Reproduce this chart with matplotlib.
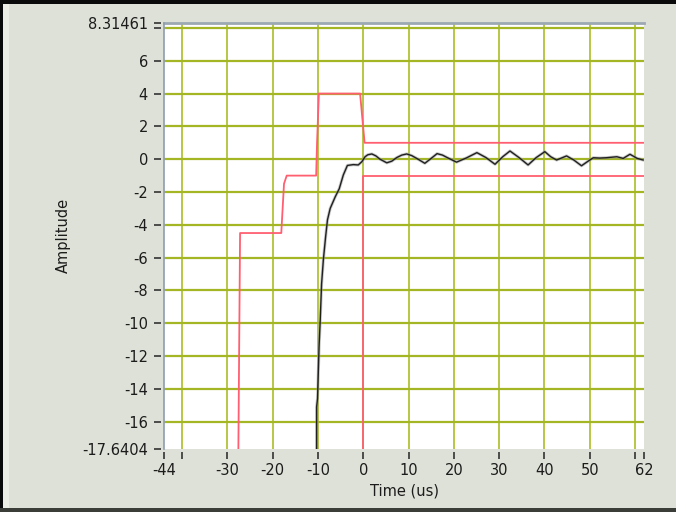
import numpy as np
import matplotlib
matplotlib.use('Agg')
import matplotlib.pyplot as plt

# axis setup
x_min, x_max = -44, 62
y_min, y_max = -17.6404, 8.31461
x_ticks = [-44, -40, -30, -20, -10, 0, 10, 20, 30, 40, 50, 60, 62]
x_labels = ['-44', '', '-30', '-20', '-10', '0', '10', '20', '30', '40', '50', '', '62']
y_ticks = [-17.6404, -16, -14, -12, -10, -8, -6, -4, -2, 0, 2, 4, 6, 8, 8.31461]
y_labels = ['-17.6404', '-16', '-14', '-12', '-10', '-8', '-6', '-4', '-2', '0',
            '2', '4', '6', '', '8.31461']
x_grid = [-40, -30, -20, -10, 0, 10, 20, 30, 40, 50, 60]
y_grid = [-16, -14, -12, -10, -8, -6, -4, -2, 0, 2, 4, 6, 8]

# upper mask limit (red)
upper_t = [-27.6, -27.2, -18.1, -17.5, -16.9, -10.4, -10.2, -9.8, -0.7, 0.3, 62]
upper_a = [-18.5, -4.5, -4.5, -1.5, -1.0, -1.0, 1.0, 4.0, 4.0, 1.0, 1.0]

# lower mask limit (red)
lower_t = [0.0, 0.0, 62]
lower_a = [-18.5, -1.0, -1.0]

# measured signal (black)
sig_t = [-10.3, -10.3, -10.1, -9.75, -9.5, -9.2, -8.8, -8.3, -7.9, -7.3,
         -6.2, -5.3, -4.4, -3.5, -2.2, -1.1, -0.3, 0.4, 1.0, 1.9,
         2.8, 3.7, 5.2, 6.3, 7.4, 8.5, 9.6, 10.7, 11.8, 13.6,
         15.0, 16.3, 17.5, 18.4, 20.6, 22.8, 25.1, 27.1, 29.1, 30.8,
         32.4, 34.4, 36.4, 38.2, 40.1, 41.4, 42.7, 44.9, 46.5, 48.2,
         49.5, 50.8, 52.2, 53.7, 56.0, 57.4, 58.9, 60.5, 61.8]
sig_a = [-18.5, -15.1, -14.6, -11.4, -9.8, -7.6, -6.1, -4.7, -3.7, -3.0,
         -2.3, -1.8, -0.96, -0.38, -0.33, -0.35, -0.15, 0.15, 0.27, 0.32,
         0.2, 0.0, -0.22, -0.12, 0.1, 0.25, 0.32, 0.22, 0.05, -0.25,
         0.05, 0.34, 0.25, 0.12, -0.18, 0.08, 0.4, 0.1, -0.31, 0.15,
         0.5, 0.1, -0.35, 0.1, 0.46, 0.15, -0.05, 0.2, -0.05, -0.4,
         -0.15, 0.09, 0.07, 0.09, 0.15, 0.05, 0.3, 0.05, -0.05]

W, H = 676, 512
fig = plt.figure(figsize=(W / 100, H / 100), dpi=100)
fig.patch.set_facecolor('#dee1d7')

# panel frame (LabVIEW style bevel)
bg = fig.add_axes([0, 0, 1, 1], zorder=-10)
bg.set_xlim(0, W)
bg.set_ylim(H, 0)
bg.axis('off')
bg.add_patch(plt.Rectangle((0, 0), W, H, color='#dee1d7', lw=0))
bg.add_patch(plt.Rectangle((3, 3), 6, H, color='#eceee6', lw=0))
shade = np.linspace(0, 1, 64)
shade_rgb = np.zeros((1, 64, 3))
c0 = np.array([232, 234, 226]) / 255
c1 = np.array([150, 160, 150]) / 255
for i, s in enumerate(shade):
    shade_rgb[0, i] = c0 * (1 - s) + c1 * s
bg.imshow(shade_rgb, extent=(660, W, H, 0), aspect='auto')
bg.add_patch(plt.Rectangle((0, 0), W, 3.5, color='#0a0a0a', lw=0))
bg.add_patch(plt.Rectangle((0, 0), 3, H, color='#0a0a0a', lw=0))
bg.add_patch(plt.Rectangle((0, H - 4.5), W, 4.5, color='#3b3d38', lw=0))

# plot area
left, right = 164, 644
top, bottom = 22.8, 448.6
ax = fig.add_axes([left / W, 1 - bottom / H, (right - left) / W, (bottom - top) / H])
ax.set_facecolor('white')
ax.set_xlim(x_min, x_max)
ax.set_ylim(y_min, y_max)

for gx in x_grid:
    ax.axvline(gx, color='#b5c745', lw=1.4, zorder=1)
for gy in y_grid:
    ax.axhline(gy, color='#a4b624', lw=1.6, zorder=1)

ax.plot(upper_t, upper_a, color='#ff5f70', lw=1.3, zorder=3)
ax.plot(lower_t, lower_a, color='#ff5f70', lw=1.3, zorder=3)
ax.plot(sig_t, sig_a, color='#9a9a9a', lw=2.2, alpha=0.55, zorder=4,
        solid_joinstyle='round')
ax.plot(sig_t, sig_a, color='#202020', lw=1.0, zorder=5, solid_joinstyle='round')

# spines / ticks
ax.spines['right'].set_visible(False)
ax.spines['top'].set_color('#9ca8b2')
ax.spines['top'].set_linewidth(2.0)
ax.spines['left'].set_position(('outward', 2.5))
ax.spines['left'].set_color('none')
ax.spines['bottom'].set_position(('outward', 2.5))
ax.spines['bottom'].set_color('none')
ax.plot([0, 0], [0, 1], transform=ax.transAxes, color='#8d9dad', lw=1.2,
        clip_on=False, zorder=6)

ax.set_xticks(x_ticks)
ax.set_xticklabels(x_labels)
ax.set_yticks(y_ticks)
ax.set_yticklabels(y_labels)
ax.tick_params(axis='both', direction='out', color='#333333', width=1.2,
               labelsize=10.5, labelcolor='#1c1c1c')
ax.tick_params(axis='y', length=5, pad=4)
ax.tick_params(axis='x', length=5, pad=3)

ax.set_xlabel('Time (us)', fontsize=10.5, color='#1c1c1c', labelpad=4)
fig.text(63 / W, 1 - 235.7 / H, 'Amplitude', rotation=90, fontsize=10.5,
         color='#1c1c1c', ha='center', va='center')

fig.savefig('out.png', dpi=100, facecolor=fig.get_facecolor())
